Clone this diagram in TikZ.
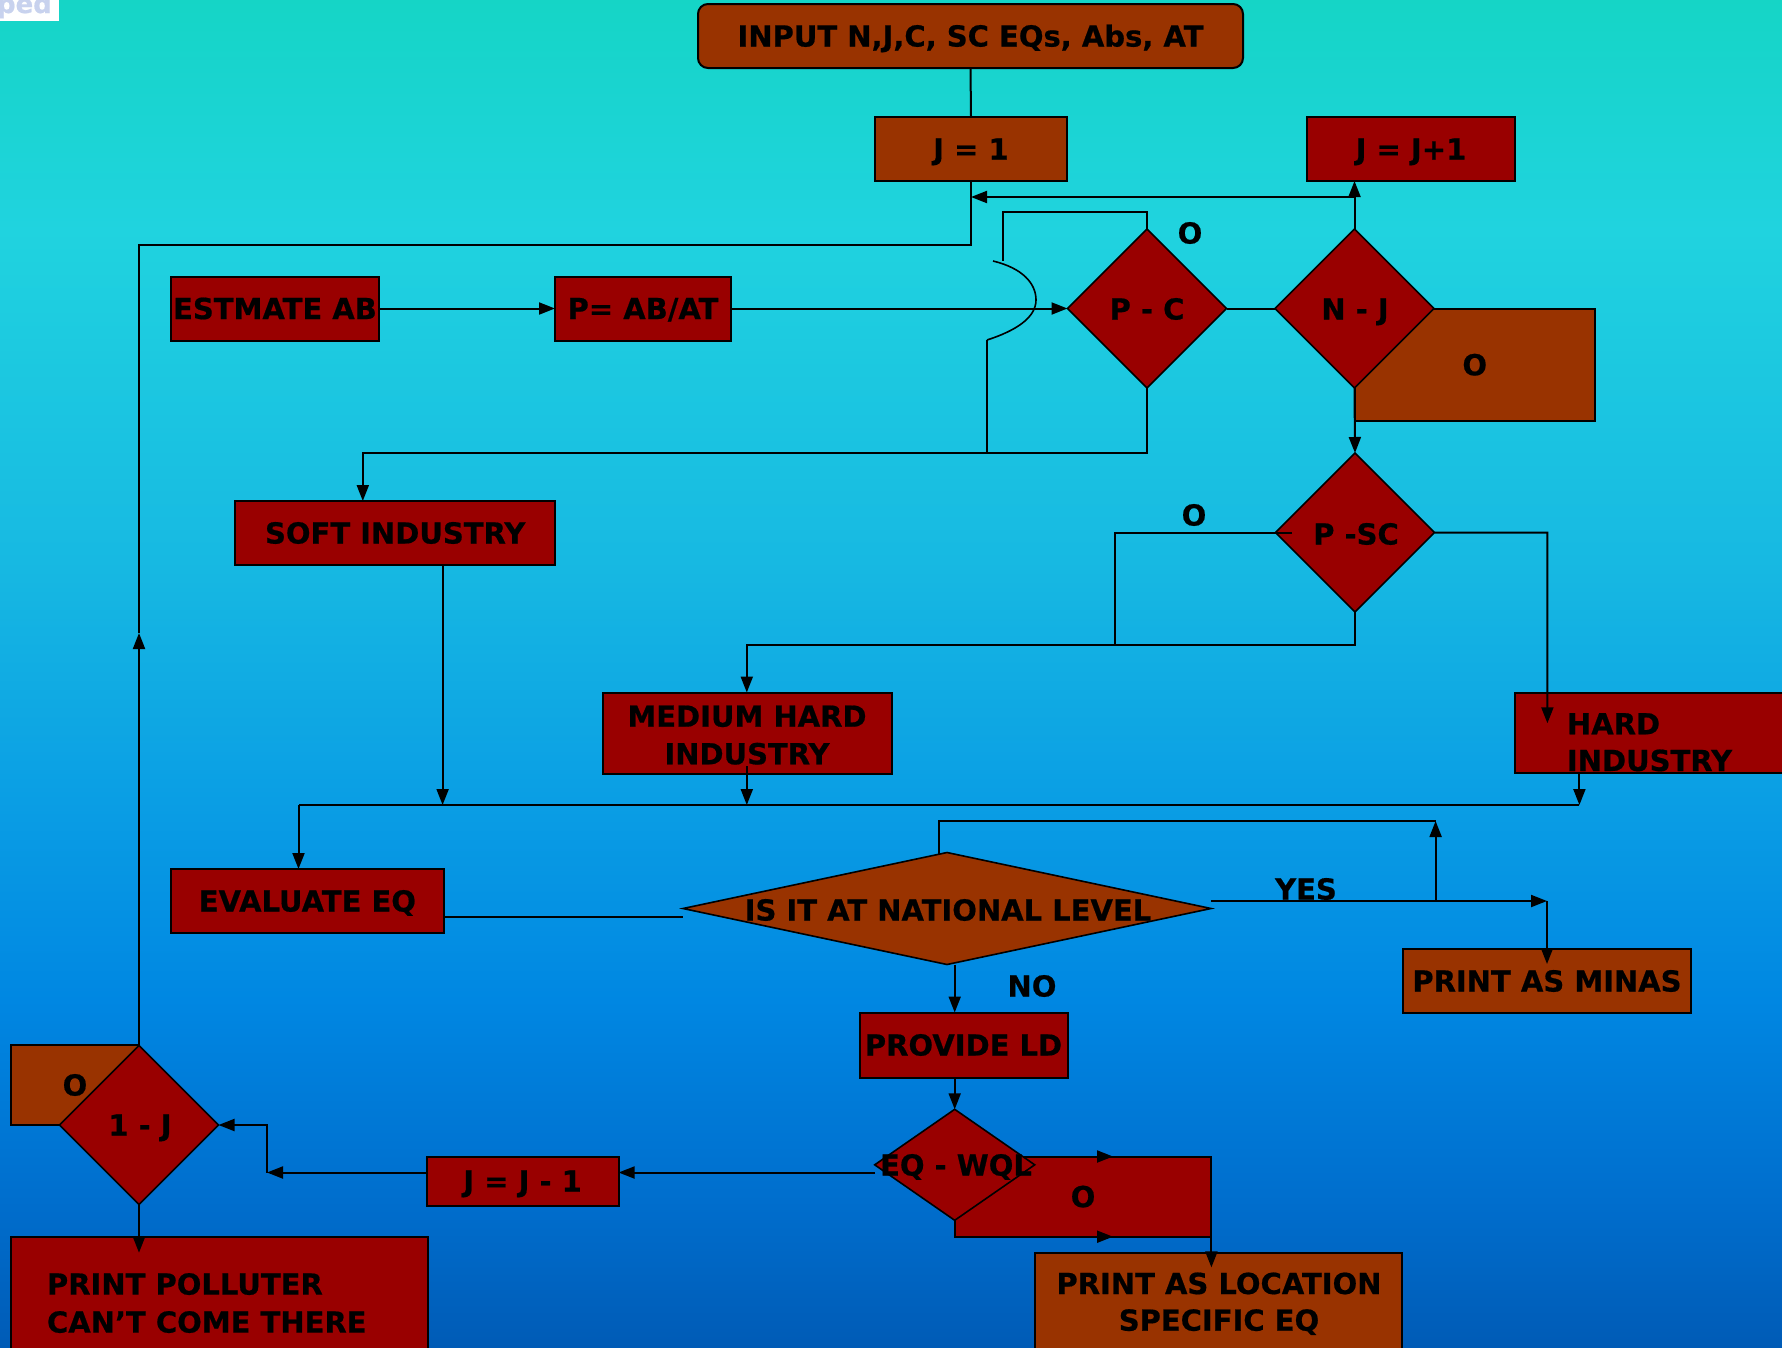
\documentclass[tikz,border=0pt]{standalone}
\usepackage{fontspec}
\setmainfont{DejaVu Sans}[BoldFeatures={FakeBold=0.6}]
\usetikzlibrary{shapes.geometric,arrows.meta}

\definecolor{brownfill}{HTML}{993300}
\definecolor{redfill}{HTML}{990000}
\definecolor{bgA}{HTML}{15D5C6}
\definecolor{bgB}{HTML}{20D3DF}
\definecolor{bgC}{HTML}{17B9E2}
\definecolor{bgD}{HTML}{0A9EE4}
\definecolor{bgE}{HTML}{0087E2}
\definecolor{bgF}{HTML}{006ECD}
\definecolor{bgG}{HTML}{005BB6}
\definecolor{logoblue}{HTML}{C8D2EE}

\newcommand\chartfont{\fontsize{29}{37}\selectfont\bfseries}

\begin{document}
\begin{tikzpicture}[x=1pt,y=-1pt,
  every node/.style={font=\chartfont, text=black, inner sep=0pt, outer sep=0pt,
                     text height=21.1pt, text depth=0pt},
  conn/.style={draw=black, line width=2pt},
  arrow/.style={conn, -{Triangle[length=16pt,width=12pt]}},
  redbox/.style={draw=black, line width=2pt, fill=redfill},
  brownbox/.style={draw=black, line width=2pt, fill=brownfill},
  decision/.style={shape=diamond, draw=black, line width=1.6pt, inner sep=0pt, outer sep=0pt}]

\useasboundingbox (0,0) rectangle (1782,1347);
\clip (0,0) rectangle (1782,1347);

% background gradient
\shade[top color=bgA, bottom color=bgB] (0,-1) rectangle (1782,231);
\shade[top color=bgB, bottom color=bgC] (0,230) rectangle (1782,561);
\shade[top color=bgC, bottom color=bgD] (0,560) rectangle (1782,801);
\shade[top color=bgD, bottom color=bgE] (0,800) rectangle (1782,1001);
\shade[top color=bgE, bottom color=bgF] (0,1000) rectangle (1782,1201);
\shade[top color=bgF, bottom color=bgG] (0,1200) rectangle (1782,1348);

% logo fragment in the corner
\fill[white] (0,0) rectangle (59,20.7);
\begin{scope}
  \clip (0,0) rectangle (59,20.7);
  \node[anchor=base west, text=logoblue, font=\fontsize{26}{26}\selectfont\bfseries] (logo) at (-3,13) {ped};
\end{scope}

% boxes that sit behind decisions
\node[brownbox, minimum width=240.5pt, minimum height=112.5pt] (njbox) at (1474.75,364.75) {O};
\node[redbox, minimum width=256.7pt, minimum height=80.2pt] (eqbox) at (1083.05,1196.6) {O};
\node[brownbox, minimum width=128.1pt, minimum height=80pt] (onejbox) at (74.95,1085) {O};

% process boxes
\node[brownbox, rounded corners=10pt, minimum width=545pt, minimum height=64pt] (input) at (970.5,36) {INPUT N,J,C, SC EQs, Abs, AT};
\node[brownbox, minimum width=192pt, minimum height=64pt] (j1) at (971,149) {J = 1};
\node[redbox, minimum width=208pt, minimum height=64pt] (jinc) at (1411,149) {J = J+1};
\node[redbox, minimum width=208pt, minimum height=64pt] (est) at (275,308.5) {ESTMATE AB};
\node[redbox, minimum width=176pt, minimum height=64pt] (pab) at (643,308.5) {P= AB/AT};
\node[redbox, minimum width=320pt, minimum height=64pt] (soft) at (395.2,533) {SOFT INDUSTRY};
\node[redbox, minimum width=289pt, minimum height=81pt] (med) at (747.2,733) {};
\node[anchor=base] (medA) at (747,726.7) {MEDIUM HARD};
\node[anchor=base] (medB) at (747,764.3) {INDUSTRY};
\node[redbox, minimum width=314.7pt, minimum height=80pt] (hard) at (1672.65,732.7) {};
\node[anchor=base west] (hardA) at (1567,734.3) {HARD};
\node[anchor=base west] (hardB) at (1567,771) {INDUSTRY};
\node[redbox, minimum width=273pt, minimum height=64pt] (eval) at (307.4,901) {EVALUATE EQ};
\node[brownbox, minimum width=288pt, minimum height=64pt] (minas) at (1547,981) {PRINT AS MINAS};
\node[redbox, minimum width=208pt, minimum height=65pt] (provide) at (963.5,1045) {PROVIDE LD};
\node[redbox, minimum width=192pt, minimum height=49pt] (jdec) at (522.6,1181) {J = J - 1};
\node[redbox, minimum width=416.8pt, minimum height=163.3pt] (polluter) at (219.3,1318.35) {};
\node[anchor=base west] (pollA) at (47,1294.6) {PRINT POLLUTER};
\node[anchor=base west] (pollB) at (47,1332.6) {CAN’T COME THERE};
\node[brownbox, minimum width=367pt, minimum height=147pt] (location) at (1218.9,1326.5) {};
\node[anchor=base] (locA) at (1219,1294) {PRINT AS LOCATION};
\node[anchor=base] (locB) at (1219,1330.7) {SPECIFIC EQ};

% decisions
\node[decision, fill=redfill, minimum width=159pt, minimum height=159pt] (pc) at (1147,308.5) {};
\node (pcT) at (1147,309) {P - C};
\node[decision, fill=redfill, minimum width=159pt, minimum height=159pt] (nj) at (1354.5,308.5) {};
\node (njT) at (1355,309) {N - J};
\node[decision, fill=redfill, minimum width=159pt, minimum height=159pt] (psc) at (1355,532.5) {};
\node (pscT) at (1356,534) {P -SC};
\node[decision, fill=brownfill, minimum width=528pt, minimum height=112pt] (nat) at (947,908.5) {};
\node (natT) at (948,910) {IS IT AT NATIONAL LEVEL};
\node[decision, fill=redfill, minimum width=160pt, minimum height=111pt] (eqw) at (954.7,1164.8) {};
\node (eqwT) at (956,1165) {EQ - WQL};
\node[decision, fill=redfill, minimum width=159pt, minimum height=159pt] (onej) at (139,1125) {};
\node (onejT) at (140,1125) {1 - J};

% branch labels
\node (oPC) at (1190,233) {O};
\node (oPSC) at (1194,515) {O};
\node (yes) at (1306,889) {YES};
\node (no) at (1032,986) {NO};

% connectors
\draw[conn] (input.south) -- (j1.north);

\coordinate (topbend) at (139,245);
\draw[conn] (j1.south) |- (topbend) -- (139,633);
\draw[arrow] (onej.north) -- (139,633);

\coordinate (loopR) at (1354.5,197);
\draw[arrow] (nj.north) -- (nj.north |- jinc.south);
\draw[arrow] (loopR) -- (j1.south |- loopR);

\draw[arrow] (est.east) -- (pab.west);
\draw[arrow] (pab.east) -- (pc.west);
\draw[conn] (pc.east) -- (nj.west);
\draw[arrow] (nj.south) -- (psc.north);

% loop over the top of P - C, bridging the P line
\coordinate (pcloop) at (1003,212);
\coordinate (bridgeA) at (1003,261);
\coordinate (bridgeB) at (987,340);
\coordinate (pcdown) at (987,452.7);
\draw[conn] (pc.north) |- (pcloop) -- (bridgeA);
\draw[conn, line width=1.6pt] (993,261) .. controls (1022,268) and (1036,283) .. (1036,300)
   .. controls (1036,318) and (1015,331) .. (bridgeB);
\draw[conn] (bridgeB) -- (pcdown);

\coordinate (softin) at (362.8,452.7);
\draw[arrow] (pc.south) |- (softin) -- (softin |- soft.north);

% P -SC branches
\coordinate (medin) at (746.8,644.7);
\coordinate (psclft) at (1114.8,532.7);
\draw[arrow] (psc.south) |- (medin) -- (medin |- med.north);
\draw[conn] (1292,532.7) -- (psclft) -- (psclft |- medin);
\coordinate (hardin) at (1547.4,532.7);
\draw[arrow] (psc.east) -- (hardin) -- (1547.4,723.3);

% collector line
\coordinate (busL) at (298.5,805);
\coordinate (busR) at (1579.4,805);
\coordinate (softout) at (442.6,805);
\coordinate (medout) at (746.8,805);
\draw[conn] (busR) -- (busL);
\draw[arrow] (softout |- soft.south) -- (softout);
\draw[arrow] (746.8,766) -- (medout);
\draw[arrow] (busR |- hard.south) -- (busR);
\draw[arrow] (busL) -- (busL |- eval.north);

\coordinate (natin) at (683,916.8);
\draw[conn] (natin -| eval.east) -- (natin);

% YES branch and loop above the national level test
\coordinate (natloop) at (1435.6,821);
\coordinate (yesj) at (1435.6,901);
\coordinate (minasin) at (1547,901);
\draw[conn] (939,855) |- (natloop);
\draw[arrow] (yesj) -- (natloop);
\draw[arrow] (nat.east |- minasin) -- (minasin);
\draw[arrow] (minasin) -- (1547,964);

% NO branch
\coordinate (natout) at (954.7,964.6);
\draw[arrow] (natout) -- (natout |- provide.north);
\draw[arrow] (natout |- provide.south) -- (eqw.north);

\coordinate (eqwout) at (875,1172.5);
\draw[arrow] (eqwout) -- (eqwout -| jdec.east);
\coordinate (onejin) at (267,1172.5);
\draw[arrow] (onejin -| jdec.west) -- (onejin);
\draw[arrow] (onejin) |- (onej.east);
\coordinate (pollin) at (139,1252.7);
\draw[arrow] (onej.south) -- (pollin);

% flow around the EQ - WQL box
\draw[arrow] (1095,1156.5) -- (1113,1156.5);
\draw[arrow] (1095,1236.7) -- (1113,1236.7);
\draw[arrow] (eqbox.south east) -- ++(0,30.7);

\end{tikzpicture}
\end{document}
